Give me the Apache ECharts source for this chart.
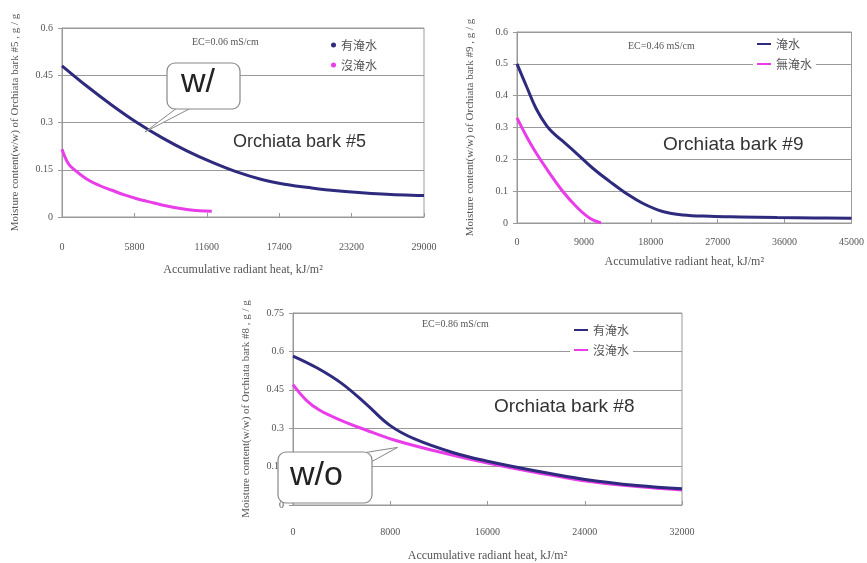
<!DOCTYPE html>
<html>
<head>
<meta charset="utf-8">
<script src="https://cdn.jsdelivr.net/npm/echarts@6/dist/echarts.min.js"></script>
<style>html,body{margin:0;padding:0;background:#fff;}#c{width:867px;height:563px;}</style>
</head>
<body>
<div id="c"></div>
<script>
// ---- Chart 1: Orchiata bark #5 ----
var b5BlueX = [0, 2000, 4000, 6000, 8000, 10000, 12000, 14000, 16000, 18000, 20000, 22000, 24000, 26000, 28000, 29000];
var b5BlueY = [0.48, 0.415, 0.355, 0.30, 0.252, 0.21, 0.174, 0.143, 0.119, 0.103, 0.092, 0.083, 0.077, 0.072, 0.069, 0.068];
var b5PinkX = [0, 500, 1000, 2000, 3000, 4000, 5000, 6000, 7000, 8000, 9000, 10000, 11000, 12000];
var b5PinkY = [0.215, 0.17, 0.15, 0.12, 0.10, 0.085, 0.07, 0.058, 0.048, 0.038, 0.03, 0.024, 0.02, 0.018];
// ---- Chart 2: Orchiata bark #9 ----
var b9BlueX = [0, 1300, 2600, 4000, 5000, 6000, 8000, 10200, 12500, 14700, 16900, 19600, 22300, 26000, 30000, 35000, 40000, 45000];
var b9BlueY = [0.50, 0.428, 0.358, 0.305, 0.28, 0.26, 0.219, 0.172, 0.13, 0.093, 0.062, 0.036, 0.025, 0.021, 0.019, 0.017, 0.016, 0.015];
var b9PinkX = [0, 1300, 2600, 4400, 6200, 8000, 9800, 11300];
var b9PinkY = [0.33, 0.271, 0.219, 0.156, 0.098, 0.051, 0.015, 0];
// ---- Chart 3: Orchiata bark #8 ----
var b8BlueX = [0, 2000, 4000, 6000, 8000, 10000, 13200, 15900, 20000, 23900, 28300, 32000];
var b8BlueY = [0.582, 0.535, 0.475, 0.395, 0.31, 0.258, 0.204, 0.172, 0.133, 0.101, 0.076, 0.063];
var b8PinkX = [0, 1100, 2200, 3900, 6000, 8250, 11800, 15900, 20000, 23900, 28300, 32000];
var b8PinkY = [0.47, 0.409, 0.37, 0.332, 0.293, 0.255, 0.21, 0.165, 0.127, 0.095, 0.072, 0.059];

var legend1 = ['有淹水', '沒淹水'];
var legend2 = ['淹水', '無淹水'];
var ecTexts = ['EC=0.06 mS/cm', 'EC=0.46 mS/cm', 'EC=0.86 mS/cm'];
var barkNames = ['Orchiata bark #5', 'Orchiata bark #9', 'Orchiata bark #8'];
var xTitle = 'Accumulative radiant heat, kJ/m²';
var yTitles = ['Moisture content(w/w) of Orchiata bark #5 , g / g',
               'Moisture content(w/w) of Orchiata bark #9 , g / g',
               'Moisture content(w/w) of Orchiata bark #8 , g / g'];

function pairs(xs, ys) { return xs.map(function (x, i) { return [x, ys[i]]; }); }

var BLUE = '#2E2B7E', PINK = '#E83DE8';
var serif = 'Liberation Serif';
var lblStyle = { fontFamily: serif, fontSize: 10, color: '#555' };

function xAx(idx, max, interval, margin, gap) {
  return {
    gridIndex: idx, type: 'value', min: 0, max: max, interval: interval,
    axisLine: { lineStyle: { color: '#999' } },
    axisTick: { show: true, inside: true, length: 4, lineStyle: { color: '#999' } },
    axisLabel: Object.assign({ margin: margin, formatter: function (v) { return String(v); } }, lblStyle),
    splitLine: { show: false },
    name: xTitle, nameLocation: 'middle', nameGap: gap,
    nameTextStyle: { fontFamily: serif, fontSize: 12, color: '#555' }
  };
}
function yAx(idx, max, interval, title) {
  return {
    gridIndex: idx, type: 'value', min: 0, max: max, interval: interval,
    axisLine: { show: true, lineStyle: { color: '#999' } },
    axisTick: { show: true, length: 4, lineStyle: { color: '#999' } },
    axisLabel: Object.assign({ margin: 9, formatter: function (v) { return String(v); } }, lblStyle),
    splitLine: { show: true, lineStyle: { color: '#9a9a9a', width: 1.2 } },
    name: title, nameLocation: 'middle', nameGap: 41, nameRotate: 90,
    nameTextStyle: { fontFamily: serif, fontSize: 11, color: '#555' }
  };
}
function ser(name, xi, xs, ys, color, z) {
  return {
    name: name, type: 'line', xAxisIndex: xi, yAxisIndex: xi,
    data: pairs(xs, ys), smooth: 0.4, showSymbol: false, z: z || 2,
    lineStyle: { color: color, width: 3 }, itemStyle: { color: color }
  };
}
function leg(names, left, top, icon, w, h) {
  return {
    data: names, left: left, top: top, orient: 'vertical', itemGap: 8,
    icon: icon, itemWidth: w, itemHeight: h, backgroundColor: '#fff', padding: [3, 4],
    textStyle: { fontFamily: 'Noto Sans CJK TC', fontSize: 12, color: '#555' }
  };
}

var chart = echarts.init(document.getElementById('c'), null, { renderer: 'canvas' });
chart.setOption({
  backgroundColor: '#fff',
  animation: false,
  grid: [
    { left: 62, top: 28, width: 362, height: 189, show: true, borderColor: '#999', borderWidth: 1 },
    { left: 517, top: 32, width: 336, height: 191, show: true, borderColor: '#999', borderWidth: 1 },
    { left: 293, top: 313, width: 389, height: 195, show: true, borderColor: '#999', borderWidth: 1 }
  ],
  xAxis: [
    xAx(0, 29000, 5800, 25, 47),
    xAx(1, 45000, 9000, 14, 33),
    xAx(2, 32000, 8000, 22, 45)
  ],
  yAxis: [
    yAx(0, 0.6, 0.15, yTitles[0]),
    yAx(1, 0.6, 0.1, yTitles[1]),
    yAx(2, 0.75, 0.15, yTitles[2])
  ],
  legend: [
    leg(legend1, 327, 36, 'circle', 5, 5),
    leg(legend2, 753, 35, 'rect', 14, 2),
    leg(legend1, 570, 321, 'rect', 14, 2)
  ],
  series: [
    ser('有淹水', 0, b5BlueX, b5BlueY, BLUE, 3),
    ser('沒淹水', 0, b5PinkX, b5PinkY, PINK, 2),
    ser('淹水', 1, b9BlueX, b9BlueY, BLUE, 3),
    ser('無淹水', 1, b9PinkX, b9PinkY, PINK, 2),
    ser('有淹水', 2, b8BlueX, b8BlueY, BLUE, 3),
    ser('沒淹水', 2, b8PinkX, b8PinkY, PINK, 2)
  ]
});

// annotations, tips anchored to data coordinates
var tip1 = chart.convertToPixel({ xAxisIndex: 0, yAxisIndex: 0 }, [6650, 0.27]);
var tip3 = chart.convertToPixel({ xAxisIndex: 2, yAxisIndex: 2 }, [8600, 0.225]);
var sans = 'Liberation Sans';
chart.setOption({
  graphic: [
    { type: 'text', left: 192, top: 37, style: { text: ecTexts[0], font: '10px ' + serif, fill: '#555' } },
    { type: 'text', left: 628, top: 41, style: { text: ecTexts[1], font: '10px ' + serif, fill: '#555' } },
    { type: 'text', left: 422, top: 319, style: { text: ecTexts[2], font: '10px ' + serif, fill: '#555' } },
    { type: 'text', left: 233, top: 133, style: { text: barkNames[0], font: '18px ' + sans, fill: '#333' } },
    { type: 'text', left: 663, top: 135, style: { text: barkNames[1], font: '19px ' + sans, fill: '#333' } },
    { type: 'text', left: 494, top: 397, style: { text: barkNames[2], font: '19px ' + sans, fill: '#333' } },
    { type: 'polygon', z: 10, shape: { points: [[177, 108], [191, 108], tip1] }, style: { fill: '#fff', stroke: '#888', lineWidth: 1 } },
    { type: 'rect', z: 11, shape: { x: 167, y: 63, width: 73, height: 46, r: 8 }, style: { fill: '#fff', stroke: '#888', lineWidth: 1.2 } },
    { type: 'text', z: 12, left: 181, top: 66, style: { text: 'w/', font: '34px ' + sans, fill: '#222' } },
    { type: 'polygon', z: 10, shape: { points: [[356, 454], [371, 462], tip3] }, style: { fill: '#fff', stroke: '#888', lineWidth: 1 } },
    { type: 'rect', z: 11, shape: { x: 278, y: 452, width: 94, height: 51, r: 8 }, style: { fill: '#fff', stroke: '#888', lineWidth: 1.2 } },
    { type: 'text', z: 12, left: 290, top: 459, style: { text: 'w/o', font: '34px ' + sans, fill: '#222' } }
  ]
});
</script>
</body>
</html>
